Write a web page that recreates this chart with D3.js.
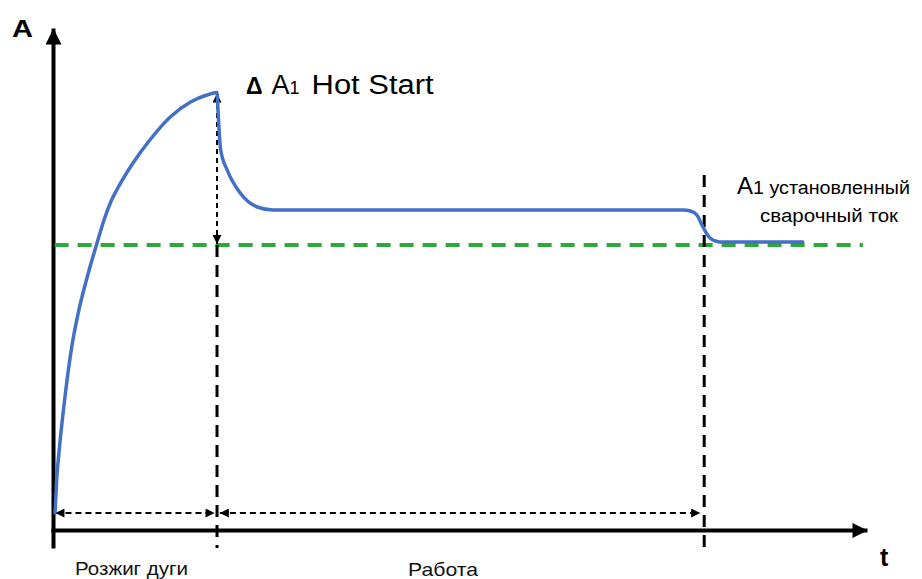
<!DOCTYPE html>
<html>
<head>
<meta charset="utf-8">
<script src="https://cdn.jsdelivr.net/npm/d3@7/dist/d3.min.js"></script>
<style>
  body { margin: 0; background: #fff; }
  svg { display: block; font-family: 'Liberation Sans', Arial, sans-serif; }
</style>
</head>
<body>
<div id="plot"></div>
<script>
'use strict';

// welding current curve (t, A) in arbitrary units
const curT = [0.25, 0.45, 0.8, 1.47, 2.3, 3.1, 4.34, 5.41, 6.39, 7.2, 7.83, 9.83, 11.9, 14.4, 16.9, 18.9, 20.15,
  20.27, 20.4, 20.6, 21.4, 23.0, 25.1, 27.0, 77.4, 78.3, 79.1, 79.85, 80.7, 81.9, 92.1]
const curA = [3.4, 10, 16.6, 26.6, 36.6, 43.4, 51.4, 57.4, 62.6, 66, 68, 73.4, 78, 82.6, 85.6, 87, 87.5,
  84, 80, 76, 72, 67.4, 64.6, 64, 64, 63.8, 63, 60.6, 58.4, 57.6, 57.6]

// set welding current level
const setLevel = 57
const setRange = [0.2, 99.5]

// phase borders
const tHot = 20.15
const tEnd = 80
const peakA = 87.5
const endTop = 71
const spanA = 3.4

const phaseLabels = ['Розжиг дуги', 'Работа']

let width = 922, height = 579

let svg = d3.select('#plot').append('svg')
  .attr('width', width)
  .attr('height', height)

let x = d3.scaleLinear().domain([0, 100]).range([53, 867])
let y = d3.scaleLinear().domain([-3.6, 100.4]).range([548, 28])

let defs = svg.append('defs')
let marker = function(id, w, h) {
  defs.append('marker')
    .attr('id', id)
    .attr('viewBox', '0 0 10 10')
    .attr('refX', 10)
    .attr('refY', 5)
    .attr('markerUnits', 'userSpaceOnUse')
    .attr('markerWidth', w)
    .attr('markerHeight', h)
    .attr('orient', 'auto-start-reverse')
    .append('path')
    .attr('d', 'M0,0L10,5L0,10z')
    .attr('fill', '#000')
}
marker('axisY', 17, 16)
marker('axisX', 16, 15)
marker('small', 10, 9)

// axes
let yAxis = d3.axisLeft(y).ticks(0).tickSizeOuter(0)
let gy = svg.append('g')
  .attr('transform', `translate(${x(0)},0)`)
  .call(yAxis)
gy.select('.domain')
  .attr('stroke', '#000')
  .attr('stroke-width', 4)
  .attr('marker-end', 'url(#axisY)')

let xAxis = d3.axisBottom(x.copy().domain([-0.25, 100]).range([51, 867])).ticks(0).tickSizeOuter(0)
let gx = svg.append('g')
  .attr('transform', `translate(0,${y(0)})`)
  .call(xAxis)
gx.select('.domain')
  .attr('stroke', '#000')
  .attr('stroke-width', 4)
  .attr('marker-end', 'url(#axisX)')

// set current line
svg.append('line')
  .attr('x1', x(setRange[0]))
  .attr('x2', x(setRange[1]))
  .attr('y1', y(setLevel))
  .attr('y2', y(setLevel))
  .attr('stroke', '#2fa83a')
  .attr('stroke-width', 4)
  .attr('stroke-dasharray', '14,9')

// vertical phase borders
let vline = function(t, a0, a1, w, dash) {
  return svg.append('line')
    .attr('x1', x(t)).attr('x2', x(t))
    .attr('y1', y(a0)).attr('y2', y(a1))
    .attr('stroke', '#000')
    .attr('stroke-width', w)
    .attr('stroke-dasharray', dash)
}
vline(tHot, setLevel, -3.6, 3, '12,8')
vline(tEnd, endTop, -3.6, 3, '12,8')
vline(tHot, setLevel + 0.2, peakA - 0.2, 2, '5,4')
  .attr('marker-start', 'url(#small)')
  .attr('marker-end', 'url(#small)')

// horizontal spans
let hline = function(t0, t1) {
  svg.append('line')
    .attr('x1', x(t0)).attr('x2', x(t1))
    .attr('y1', y(spanA)).attr('y2', y(spanA))
    .attr('stroke', '#000')
    .attr('stroke-width', 2)
    .attr('stroke-dasharray', '6,4')
    .attr('marker-start', 'url(#small)')
    .attr('marker-end', 'url(#small)')
}
hline(0.3, tHot - 0.3)
hline(tHot + 0.35, tEnd - 0.5)

// current curve
let pts = curT.map((t, i) => [t, curA[i]])
let line = d3.line()
  .x(d => x(d[0]))
  .y(d => y(d[1]))
  .curve(d3.curveMonotoneX)
svg.append('path')
  .attr('d', line(pts))
  .attr('fill', 'none')
  .attr('stroke', '#4170c6')
  .attr('stroke-width', 3.5)
  .attr('stroke-linecap', 'round')

// labels
svg.append('text')
  .attr('x', 12).attr('y', 37)
  .attr('font-size', 23).attr('font-weight', 'bold')
  .attr('textLength', 21).attr('lengthAdjust', 'spacingAndGlyphs')
  .text('A')
svg.append('text')
  .attr('x', 880).attr('y', 566)
  .attr('font-size', 25).attr('font-weight', 'bold')
  .text('t')

let hot = svg.append('text')
  .attr('x', 246).attr('y', 94)
hot.append('tspan').attr('font-size', 23).attr('font-weight', 'bold').text('Δ')
hot.append('tspan').attr('dx', 9).attr('font-size', 27).text('A')
hot.append('tspan').attr('font-size', 18).text('1')
hot.append('tspan').attr('dx', 12).attr('font-size', 27)
  .attr('textLength', 122).attr('lengthAdjust', 'spacingAndGlyphs').text('Hot Start')

let setTxt = svg.append('text')
  .attr('x', 737).attr('y', 194)
setTxt.append('tspan').attr('font-size', 24).text('A')
setTxt.append('tspan').attr('font-size', 18)
  .attr('textLength', 157).attr('lengthAdjust', 'spacingAndGlyphs').text('1 установленный')
svg.append('text')
  .attr('x', 760).attr('y', 222)
  .attr('font-size', 18)
  .attr('textLength', 138).attr('lengthAdjust', 'spacingAndGlyphs')
  .text('сварочный ток')

svg.append('text')
  .attr('x', 75).attr('y', 575)
  .attr('font-size', 18).attr('fill', '#111')
  .attr('textLength', 113).attr('lengthAdjust', 'spacingAndGlyphs')
  .text(phaseLabels[0])
svg.append('text')
  .attr('x', 408).attr('y', 576)
  .attr('font-size', 19).attr('fill', '#111')
  .attr('textLength', 70).attr('lengthAdjust', 'spacingAndGlyphs')
  .text(phaseLabels[1])
</script>
</body>
</html>
